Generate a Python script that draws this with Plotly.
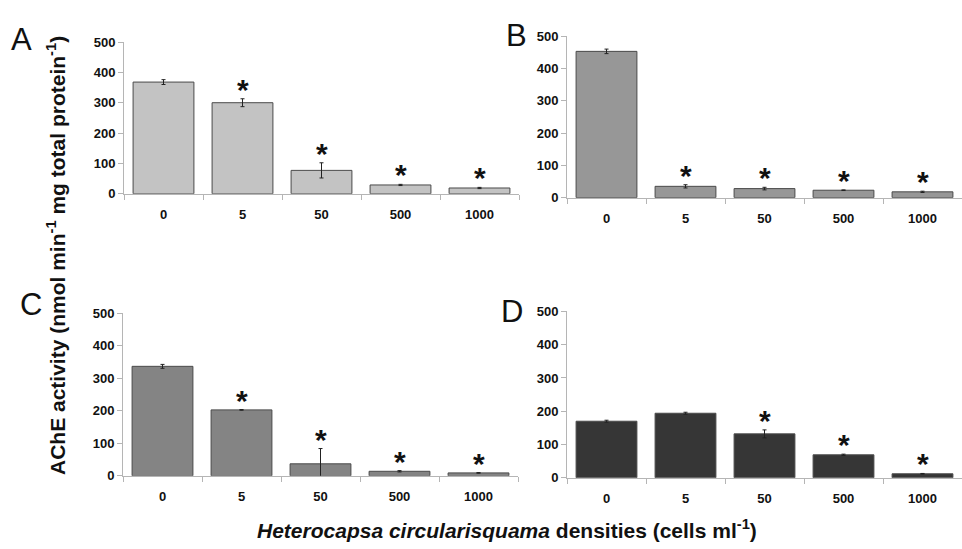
import plotly.graph_objects as go

categories = ["0", "5", "50", "500", "1000"]
tick_vals = [0, 100, 200, 300, 400, 500]

values_A = [368, 300, 77, 29, 19]
errors_A = [8, 13, 25, 2, 2]
signif_A = [False, True, True, True, True]

values_B = [453, 35, 28, 23, 18]
errors_B = [7, 5, 4, 1, 2]
signif_B = [False, True, True, True, True]

values_C = [337, 203, 37, 14, 9]
errors_C = [6, 1, 47, 2, 1]
signif_C = [False, True, True, True, True]

values_D = [170, 194, 132, 69, 12]
errors_D = [3, 3, 12, 2, 1]
signif_D = [False, False, True, True, True]

panels = [
    ("A", values_A, errors_A, signif_A, "#c3c3c3"),
    ("B", values_B, errors_B, signif_B, "#979797"),
    ("C", values_C, errors_C, signif_C, "#848484"),
    ("D", values_D, errors_D, signif_D, "#363636"),
]

W, H = 962, 549
# pixel geometry: (x_left, x_right, y_top(500), y_bottom(0))
geom = [
    (124, 519, 36, 192),
    (567, 962, 30, 196),
    (123, 518, 315, 482),
    (567, 962, 313, 484),
]
letter_pos = [(21, 33), (516, 29), (31, 306), (512, 313)]

tick_font = dict(family="Liberation Sans Narrow, Arial Narrow, Liberation Sans, Arial",
                 size=13, color="#111111", weight="bold")
idx = list(range(len(categories)))

layout_axes = {}
fig = go.Figure()
for i, (name, vals, errs, sig, color) in enumerate(panels):
    xl, xr, yt, yb = geom[i]
    k = "" if i == 0 else str(i + 1)
    fig.add_trace(go.Bar(
        x=idx, y=vals,
        error_y=dict(type="data", array=errs, color="#222222", thickness=1, width=2),
        marker=dict(color=color, line=dict(color="#4a4a4a", width=1)),
        xaxis="x" + k, yaxis="y" + k, showlegend=False,
    ))
    layout_axes["xaxis" + k] = dict(
        domain=[xl / W, xr / W], anchor="y" + k,
        range=[-0.5, len(categories) - 0.5],
        tickvals=idx, ticktext=categories,
        ticks="outside", ticklen=9, tickcolor="rgba(0,0,0,0)",
        minor=dict(tick0=-0.5, dtick=1, ticks="outside", ticklen=5, tickcolor="#b5b5b5", showgrid=False),
        showline=True, linecolor="#b5b5b5", linewidth=1,
        showgrid=False, zeroline=False, tickfont=tick_font, fixedrange=True,
    )
    layout_axes["yaxis" + k] = dict(
        domain=[(H - yb) / H, (H - yt) / H], anchor="x" + k,
        range=[0, 500], tickvals=tick_vals,
        showline=True, linecolor="#b5b5b5", linewidth=1,
        ticks="outside", ticklen=5, tickcolor="#b5b5b5",
        showgrid=False, zeroline=False, tickfont=tick_font, fixedrange=True,
    )
    for j, (v, e, s) in enumerate(zip(vals, errs, sig)):
        if s:
            fig.add_annotation(
                x=idx[j], y=v + e, xref="x" + k, yref="y" + k,
                text="<b>*</b>", showarrow=False, yanchor="bottom",
                yshift=-9, font=dict(family="Liberation Sans, Arial", size=30, color="#111111"),
            )
    lx, ly = letter_pos[i]
    fig.add_annotation(
        x=lx / W, y=(H - ly) / H, xref="paper", yref="paper",
        text=name, showarrow=False, xanchor="center", yanchor="middle",
        font=dict(family="Liberation Sans, Arial", size=31, color="#111111"),
    )

fig.add_annotation(
    x=56 / W, y=(H - 256) / H, xref="paper", yref="paper",
    text="<b>AChE activity (nmol min<sup>-1</sup> mg total protein<sup>-1</sup>)</b>",
    textangle=-90, showarrow=False, xanchor="center", yanchor="middle",
    font=dict(family="Liberation Sans, Arial", size=21, color="#111111"),
)
fig.add_annotation(
    x=507 / W, y=(H - 537) / H, xref="paper", yref="paper",
    text="<b><i>Heterocapsa circularisquama</i> densities (cells ml<sup>-1</sup>)</b>",
    showarrow=False, xanchor="center", yanchor="middle",
    font=dict(family="Liberation Sans, Arial", size=21, color="#111111"),
)

fig.update_layout(
    width=W, height=H, margin=dict(l=0, r=0, t=0, b=0),
    paper_bgcolor="white", plot_bgcolor="white",
    bargap=0.23, **layout_axes,
)
fig.write_html(
    "out.html",
    config={"displayModeBar": False, "staticPlot": True},
    post_script="document.body.style.margin='0';document.body.style.overflow='hidden';",
)
